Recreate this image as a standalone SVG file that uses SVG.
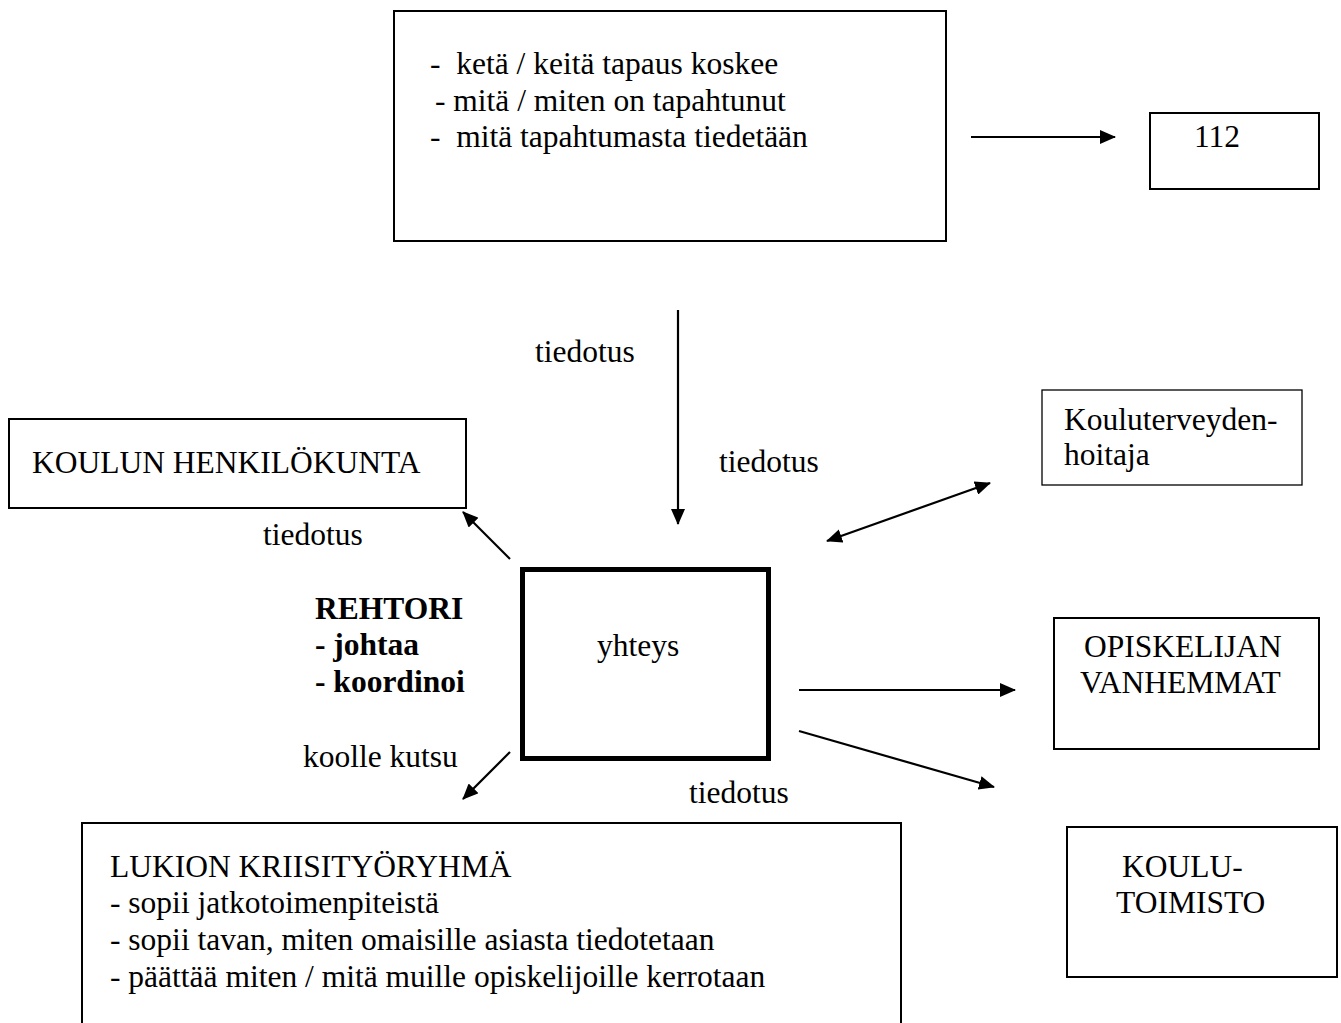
<svg xmlns="http://www.w3.org/2000/svg" width="1341" height="1023" viewBox="0 0 1341 1023">
<style>
text{font-family:"Liberation Serif","Times New Roman",serif;font-size:31.5px;fill:#000;white-space:pre}
.b{font-weight:bold}
.box{fill:#fff;stroke:#000;stroke-width:2}
.thin{stroke-width:1.3}
.thick{stroke-width:5}
.con line{stroke:#000;stroke-width:2.2;marker-end:url(#ah)}
</style>
<defs>
<marker id="ah" markerUnits="userSpaceOnUse" viewBox="0 0 16 14" markerWidth="16" markerHeight="14" refX="15" refY="7" orient="auto-start-reverse">
<path d="M0,0 L16,7 L0,14 z" fill="#000"/>
</marker>
</defs>
<rect width="1341" height="1023" fill="#fff"/>
<g id="info">
<rect class="box" x="394" y="11" width="552" height="230"/>
<text x="430" y="74">-  ketä / keitä tapaus koskee</text>
<text x="435" y="111">- mitä / miten on tapahtunut</text>
<text x="430" y="147">-  mitä tapahtumasta tiedetään</text>
</g>
<g id="n112">
<rect class="box" x="1150" y="113" width="169" height="76"/>
<text x="1194" y="147">112</text>
</g>
<g id="henkilokunta">
<rect class="box" x="9" y="419" width="457" height="89"/>
<text x="32" y="473">KOULUN HENKILÖKUNTA</text>
</g>
<g id="terveydenhoitaja">
<rect class="box thin" x="1042" y="390" width="260" height="95"/>
<text x="1064" y="430">Kouluterveyden-</text>
<text x="1064" y="465">hoitaja</text>
</g>
<g id="yhteys">
<rect class="box thick" x="522.5" y="569.5" width="246" height="189"/>
<text x="597" y="656">yhteys</text>
</g>
<g id="rehtori">
<text class="b" x="315" y="619">REHTORI</text>
<text class="b" x="315" y="655">- johtaa</text>
<text class="b" x="315" y="692">- koordinoi</text>
</g>
<g id="vanhemmat">
<rect class="box" x="1054" y="618" width="265" height="131"/>
<text x="1084" y="657">OPISKELIJAN</text>
<text x="1080" y="693">VANHEMMAT</text>
</g>
<g id="koulutoimisto">
<rect class="box" x="1067" y="827" width="270" height="150"/>
<text x="1122" y="877">KOULU-</text>
<text x="1116" y="913">TOIMISTO</text>
</g>
<g id="kriisityoryhma">
<rect class="box" x="82" y="823" width="819" height="215"/>
<text x="110" y="877">LUKION KRIISITYÖRYHMÄ</text>
<text x="110" y="913">- sopii jatkotoimenpiteistä</text>
<text x="110" y="950">- sopii tavan, miten omaisille asiasta tiedotetaan</text>
<text x="110" y="987">- päättää miten / mitä muille opiskelijoille kerrotaan</text>
</g>
<g id="connectors" class="con">
<line x1="971" y1="137" x2="1115" y2="137"/>
<line x1="678" y1="310" x2="678" y2="524"/>
<line x1="510" y1="559" x2="463" y2="512"/>
<line x1="510" y1="752" x2="463" y2="799"/>
<line x1="827" y1="541" x2="990" y2="483" style="marker-start:url(#ah)"/>
<line x1="799" y1="690" x2="1015" y2="690"/>
<line x1="799" y1="731" x2="994" y2="787"/>
</g>
<g id="labels">
<text x="535" y="362">tiedotus</text>
<text x="719" y="472">tiedotus</text>
<text x="263" y="545">tiedotus</text>
<text x="303" y="767">koolle kutsu</text>
<text x="689" y="803">tiedotus</text>
</g>
</svg>
